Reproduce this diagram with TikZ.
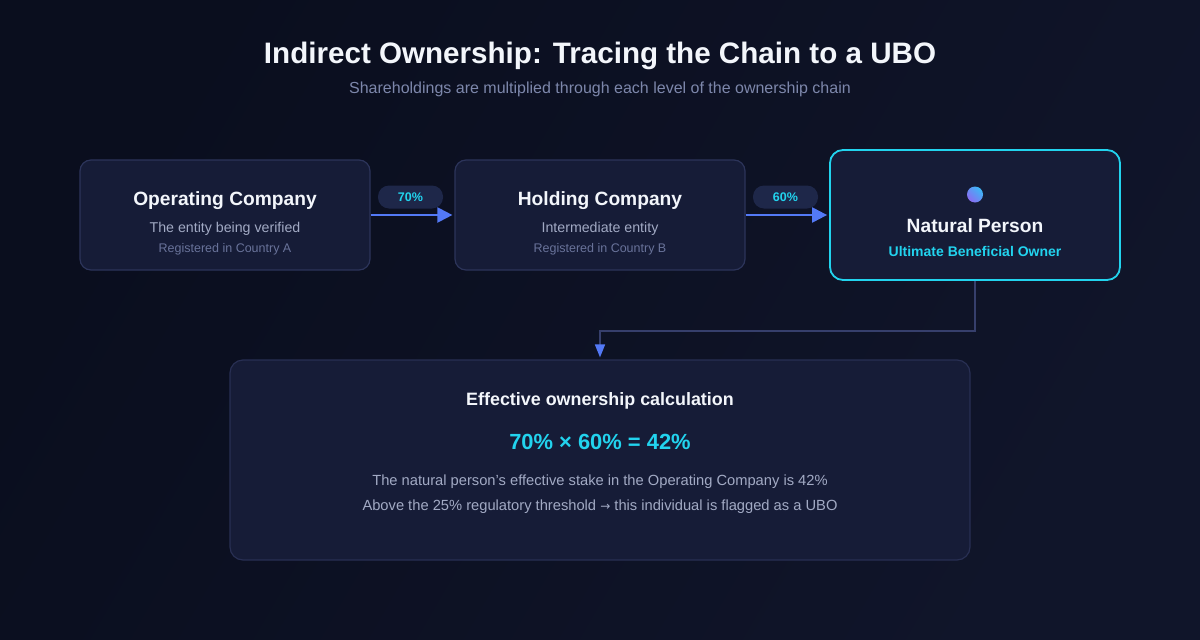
\documentclass[tikz,border=0pt]{standalone}
\usepackage{fontspec}
\setmainfont{Liberation Sans}
\newfontfamily\dejavu{DejaVu Sans}
\usetikzlibrary{arrows.meta,calc}
\definecolor{bgA}{HTML}{0A0E1E}
\definecolor{bgB}{HTML}{10152A}
\definecolor{boxfill}{HTML}{161C37}
\definecolor{boxline}{HTML}{2C345A}
\definecolor{pillfill}{HTML}{1E2749}
\definecolor{titlec}{HTML}{F3F6FB}
\definecolor{subc}{HTML}{7D87AB}
\definecolor{bodyc}{HTML}{A2AAC4}
\definecolor{dimc}{HTML}{69739A}
\definecolor{cyanc}{HTML}{22D3EE}
\definecolor{arrowblue}{HTML}{5379F6}
\definecolor{connc}{HTML}{363F6C}
\definecolor{dotA}{HTML}{3BB8F6}
\definecolor{dotB}{HTML}{8A6CF2}
\tikzset{
  entity/.style={draw=boxline, line width=1.2pt, fill=boxfill, rounded corners=11pt, minimum width=290pt, minimum height=110pt, inner sep=0pt},
  uboBox/.style={draw=cyanc, line width=1.8pt, fill=boxfill, rounded corners=13pt, minimum width=290pt, minimum height=130pt, inner sep=0pt},
  calcBox/.style={draw=boxline!80!boxfill, line width=1.2pt, fill=boxfill, rounded corners=13pt, minimum width=740pt, minimum height=200pt, inner sep=0pt},
  pill/.style={fill=pillfill, rounded corners=11pt, minimum width=65pt, minimum height=23pt, inner sep=0pt, text=cyanc, font=\fontsize{12.5}{14}\selectfont\bfseries},
  flow/.style={draw=arrowblue, line width=2.2pt, -{Triangle[length=15pt,width=15pt]}, shorten >=2pt},
  conn/.style={draw=connc, line width=1.6pt, -{Triangle[length=13pt,width=10pt,color=arrowblue]}, shorten >=2pt},
  txt/.style={anchor=base, inner sep=0pt},
  ttl/.style={txt, text=titlec, font=\fontsize{19.2}{22}\selectfont\bfseries},
  sub/.style={txt, text=bodyc, font=\fontsize{14.2}{16}\selectfont},
  reg/.style={txt, text=dimc, font=\fontsize{12.5}{14}\selectfont},
}
\begin{document}
\begin{tikzpicture}[x=1pt,y=-1pt]
\useasboundingbox (0,0) rectangle (1200,640);
\shade[left color=bgA, right color=bgB, shading angle=60] (0,0) rectangle (1200,640);

% title
\node[txt, text=titlec, font=\fontsize{29.6}{34}\selectfont\bfseries] (title) at (600,63) {Indirect Ownership: Tracing the Chain to a UBO};
\node[txt, text=subc, font=\fontsize{16}{18}\selectfont] (subtitle) at (600,93) {Shareholdings are multiplied through each level of the ownership chain};

% boxes
\node[entity] (op) at (225,215) {};
\node[entity] (hold) at (600,215) {};
\node[uboBox] (np) at (975,215) {};
\node[calcBox] (calc) at (600,460) {};

% box 1
\node[ttl] (opT) at (225,205) {Operating Company};
\node[sub] (opS) at (225,232) {The entity being verified};
\node[reg] (opR) at (225,252.5) {Registered in Country A};

% box 2
\node[ttl] (holdT) at (600,205) {Holding Company};
\node[sub] (holdS) at (600,232) {Intermediate entity};
\node[reg] (holdR) at (600,252.5) {Registered in Country B};

% box 3
\node[circle, minimum size=16pt, inner sep=0pt, left color=dotA, right color=dotB, shading angle=-45] (dot) at (975,194.5) {};
\node[ttl] (npT) at (975,232.5) {Natural Person};
\node[txt, text=cyanc, font=\fontsize{14}{16}\selectfont\bfseries] (npS) at (975,256.5) {Ultimate Beneficial Owner};

% arrows
\draw[flow] (op.east) -- (hold.west);
\draw[flow] (hold.east) -- (np.west);
\node[pill] (p1) at (410.5,197) {70\%};
\node[pill] (p2) at (785.5,197) {60\%};

% connector
\draw[conn] (np.south) -- ++(0,50) -| (calc.north);

% calc box text
\node[txt, text=titlec, font=\fontsize{17.9}{20}\selectfont\bfseries] (cT) at (600,405) {Effective ownership calculation};
\node[txt, text=cyanc, font=\fontsize{21.9}{24}\selectfont\bfseries] (cF) at (600,449.5) {70\% × 60\% = 42\%};
\node[txt, text=bodyc, font=\fontsize{14.7}{16}\selectfont] (c1) at (600,485) {The natural person's effective stake in the Operating Company is 42\%};
\node[txt, text=bodyc, font=\fontsize{14.7}{16}\selectfont] (c2) at (600,510) {Above the 25\% regulatory threshold {\dejavu\fontsize{12}{14}\selectfont →} this individual is flagged as a UBO};
\end{tikzpicture}
\end{document}
